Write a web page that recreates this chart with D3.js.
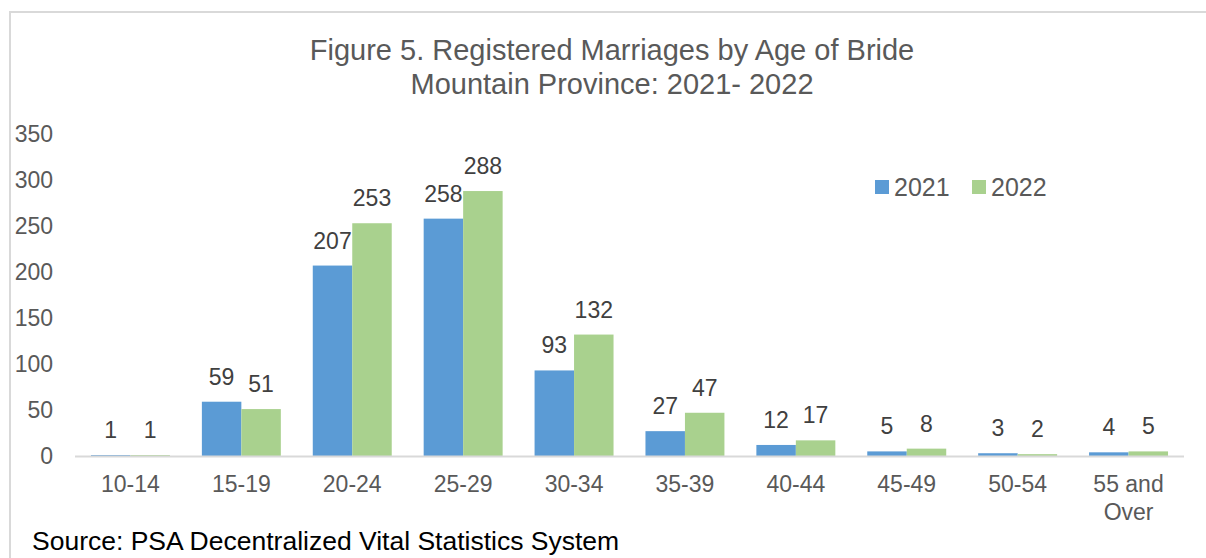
<!DOCTYPE html>
<html>
<head>
<meta charset="utf-8">
<script src="https://cdn.jsdelivr.net/npm/d3@7"></script>
<style>
  body { margin: 0; background: #fff; }
  text { font-family: "Liberation Sans", Arial, sans-serif; }
</style>
</head>
<body>
<div id="chart"></div>
<script>
// chart values
const ageGroups = ["10-14", "15-19", "20-24", "25-29", "30-34", "35-39", "40-44", "45-49", "50-54", "55 and Over"];
const years = ["2021", "2022"];
const values2021 = [1, 59, 207, 258, 93, 27, 12, 5, 3, 4];
const values2022 = [1, 51, 253, 288, 132, 47, 17, 8, 2, 5];
const yTicks = [0, 50, 100, 150, 200, 250, 300, 350];
const titleLines = ["Figure 5. Registered Marriages by Age of Bride", "Mountain Province: 2021- 2022"];
const sourceNote = "Source: PSA Decentralized Vital Statistics System";

const colors = {"2021": "#5B9BD5", "2022": "#A9D18E"};

const width = 1206, height = 558;

const svg = d3.select('#chart')
    .append('svg')
    .attr('width', width)
    .attr('height', height);

// frame of the chart area
svg.append('rect')
    .attr('x', 10).attr('y', 12)
    .attr('width', 1400).attr('height', 700)
    .attr('fill', 'none')
    .attr('stroke', '#d9d9d9')
    .attr('stroke-width', 2);

const x = d3.scaleBand()
    .domain(ageGroups)
    .range([75, 1184])
    .paddingInner(0.288)
    .paddingOuter(0.144);

const xSeries = d3.scaleBand()
    .domain(years)
    .range([0, x.bandwidth()]);

const y = d3.scaleLinear()
    .domain([0, 350])
    .range([456, 134]);

// rows: one per age group
const rows = ageGroups.map((g, i) => ({group: g, "2021": values2021[i], "2022": values2022[i]}));

// title
svg.append('g').selectAll('text')
    .data(titleLines)
    .enter().append('text')
    .attr('x', 612)
    .attr('y', (d, i) => 60 + i * 34)
    .attr('text-anchor', 'middle')
    .attr('fill', '#595959')
    .style('font-size', '29px')
    .text(d => d);

// y axis labels (no line, no ticks)
const yAxis = svg.append('g')
    .attr('transform', 'translate(53,0)')
    .call(d3.axisLeft(y).tickValues(yTicks).tickSize(0).tickPadding(0));
yAxis.select('.domain').remove();
yAxis.selectAll('text')
    .attr('fill', '#595959')
    .style('font-size', '23px')
    .style('font-family', '"Liberation Sans", Arial, sans-serif');

// bars
const groups = svg.append('g').selectAll('g')
    .data(rows)
    .enter().append('g')
    .attr('transform', d => 'translate(' + x(d.group) + ',0)');

groups.selectAll('rect')
    .data(d => years.map(yr => ({year: yr, value: d[yr]})))
    .enter().append('rect')
    .attr('x', d => xSeries(d.year))
    .attr('y', d => y(d.value))
    .attr('width', xSeries.bandwidth())
    .attr('height', d => y(0) - y(d.value))
    .attr('fill', d => colors[d.year]);

// data labels
groups.selectAll('text')
    .data(d => years.map(yr => ({year: yr, value: d[yr]})))
    .enter().append('text')
    .attr('x', d => xSeries(d.year) + xSeries.bandwidth() / 2)
    .attr('y', d => y(d.value) - 17)
    .attr('text-anchor', 'middle')
    .attr('fill', '#404040')
    .style('font-size', '23px')
    .text(d => d.value);

// x axis baseline
svg.append('line')
    .attr('x1', 75).attr('x2', 1184)
    .attr('y1', y(0) + 0.5).attr('y2', y(0) + 0.5)
    .attr('stroke', '#d9d9d9')
    .attr('stroke-width', 2);

// category labels, wrapped like the original
const catLabels = svg.append('g').selectAll('text')
    .data(ageGroups)
    .enter().append('text')
    .attr('x', d => x(d) + x.bandwidth() / 2)
    .attr('y', 492)
    .attr('text-anchor', 'middle')
    .attr('fill', '#595959')
    .style('font-size', '23px');

catLabels.each(function(d) {
    const lines = d === "55 and Over" ? ["55 and", "Over"] : [d];
    const t = d3.select(this);
    lines.forEach((ln, i) => {
        t.append('tspan')
            .attr('x', x(d) + x.bandwidth() / 2)
            .attr('dy', i === 0 ? 0 : 28)
            .text(ln);
    });
});

// legend
const legend = svg.append('g').selectAll('g')
    .data(years)
    .enter().append('g')
    .attr('transform', (d, i) => 'translate(' + (875 + i * 97) + ',180)');
legend.append('rect')
    .attr('width', 14).attr('height', 14)
    .attr('fill', d => colors[d]);
legend.append('text')
    .attr('x', 19).attr('y', 16)
    .attr('fill', '#595959')
    .style('font-size', '25px')
    .text(d => d);

// source note
svg.append('text')
    .attr('x', 32).attr('y', 550)
    .attr('fill', '#000')
    .style('font-size', '26.5px')
    .text(sourceNote);
</script>
</body>
</html>
